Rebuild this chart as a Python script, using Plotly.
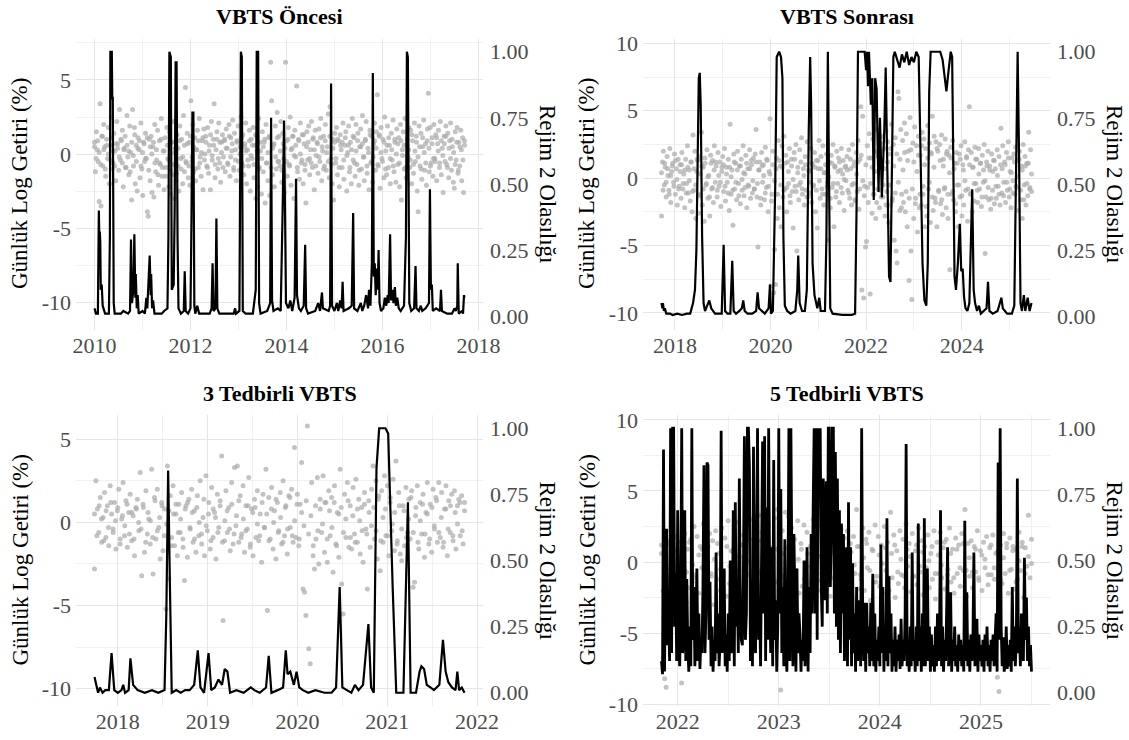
import numpy as np
import plotly.graph_objects as go

FONT = "Liberation Serif"
W, H = 1129, 740

# ---------------- DATA ----------------
# daily log returns (%), stored in tenths of a percent
p1_span = (2010.00, 2017.71)
p1_ret = [
 8,-12,15,3,-5,-32,34,-35,12,-8,20,5,-15,10,-3,18,-20,6,25,-10,
 -6,14,2,-18,22,7,-11,30,-4,9,16,-22,4,12,-9,26,-2,-14,19,1,
 -31,30,-8,18,-20,6,-25,11,3,-16,21,-10,-28,8,-5,14,-3,-39,-42,10,
 -18,12,-26,5,-29,20,-12,-4,16,-21,9,-7,24,-15,2,-24,11,-9,18,-3,
 -22,15,-27,8,-14,22,-30,4,-18,13,-8,-25,19,-3,10,-20,26,-12,45,-6,
 14,-16,8,-21,36,-5,20,-12,11,-18,3,16,-9,24,-2,-15,9,-24,17,0,
 12,-8,18,-13,6,-24,22,-4,10,34,-16,3,15,-10,21,-6,-19,8,13,-2,
 9,-12,17,4,-7,20,-15,11,2,23,-9,14,-4,-18,8,19,-11,5,25,-6,
 13,-14,7,21,-20,3,-8,16,-25,10,-3,18,-16,6,-30,12,-22,24,-9,2,
 -27,15,-12,8,-33,20,-6,-18,11,-28,62,36,-14,6,-22,19,-10,28,-5,12,
 -8,22,-19,14,-3,-26,62,9,-15,18,-7,25,-21,4,12,-30,16,-2,46,-12,
 10,-17,21,-6,13,-20,7,-11,-33,15,-4,19,-14,3,22,-9,11,-24,16,-1,
 8,-13,17,-5,24,-18,2,12,-8,20,-11,5,27,-16,32,-3,-20,10,-31,14,
 -6,18,-14,9,-22,13,3,-9,21,-17,6,15,-25,1,19,-12,8,-20,24,-4,
 11,-15,20,-7,14,-21,5,17,-10,26,-2,-18,9,22,-13,4,-24,16,-6,12,
 -19,7,21,-11,15,40,-8,13,-23,18,-3,10,-16,25,2,-14,19,-9,6,-20,
 14,-4,23,-12,8,-19,17,-7,11,-22,20,-31,3,15,-10,24,-16,6,-2,18,
 -9,16,-20,9,-13,21,-5,12,-25,-39,19,-8,14,-17,5,23,-11,7,-21,17,
 41,-12,18,-6,11,-15,20,-3,13,-18,7,16,-9,22,-14,4,-26,12,-5,19,
 -7,14,-16,9,21,-11,5,-19,-23,15,-4,18,-13,8,-8,16,-18,11,-26,6]
p1_ret_core = [
 5,-3,9,1,-7,12,3,-10,6,0,-4,11,2,-8,7,4,-2,10,-6,3,
 -9,6,2,-12,8,-1,13,-5,4,9,-8,1,7,-3,11,-11,5,0,8,-6,
 3,-14,-6,10,-9,2,-15,6,-4,-11,8,-7,1,-13,4,9,-10,-2,6,-5,
 7,-8,12,-2,5,-10,3,9,-6,1,11,-4,8,-9,2,13,-1,6,-7,10,
 -3,8,1,-9,10,4,-6,12,-2,7,-11,3,9,-5,0,11,-8,5,2,-4,
 9,-1,6,-7,13,2,-10,8,-3,5,10,-6,1,12,-9,4,7,-2,11,-5,
 2,-11,7,4,-5,10,-8,3,12,-1,6,-9,9,0,-4,13,-7,5,8,-3,
 -6,10,3,-8,7,-2,11,5,-10,9,1,-5,12,-7,4,8,-3,10,-9,6,
 8,-4,11,-1,6,-9,3,12,-6,2,9,-11,5,7,-2,10,-8,1,13,-5,
 -2,9,4,-7,12,1,-5,8,-10,6,11,-3,3,-8,10,0,7,-6,9,-1,
 6,-9,10,3,-4,13,-7,2,8,-2,5,-10,11,1,-6,9,4,-8,7,-3,
 -5,11,2,-6,9,-1,7,12,-9,4,-3,10,1,-7,8,-11,5,3,-4,9]

p2_span = (2017.72, 2025.46)
p2_ret = [
 -28,12,20,-5,8,-14,16,2,-9,22,-18,5,11,-3,18,-12,7,-20,14,-6,
 10,-15,19,-8,3,-22,14,-4,24,-11,6,-17,12,-25,32,-9,20,-30,5,13,
 -26,16,-12,34,-20,8,-32,11,-5,21,-15,2,-28,17,-8,13,-18,24,-3,9,
 -14,19,-6,12,-21,5,16,-10,22,-17,8,-3,14,-24,40,-12,6,-35,18,-8,
 11,-16,20,-4,9,-19,14,-9,24,-13,3,17,-22,7,-6,21,-15,10,-11,15,
 -8,18,36,-14,-51,6,12,-20,19,-3,10,-16,23,-7,13,-25,5,44,-80,-12,
 20,-85,-53,-79,15,-30,28,-22,9,-36,24,-14,31,-8,17,-25,12,-4,22,-18,
 14,-10,-37,19,-6,25,-54,8,-16,21,-3,30,-12,7,-20,16,-9,27,-14,5,
 -11,22,-18,10,-5,19,-25,13,-37,7,28,-15,16,-8,24,-20,4,-12,18,-3,
 -46,12,-22,17,-7,25,-36,9,-14,20,-4,15,-18,6,22,-11,13,-24,8,-2,
 16,-9,21,-15,7,-20,25,-4,12,-17,19,-10,28,-23,14,53,-83,46,-89,-6,
 -51,-47,24,-18,33,-86,15,-26,29,-12,20,-30,36,-8,18,-22,26,-14,31,-5,
 22,-28,35,-10,27,-33,18,-20,40,-15,25,-46,30,-54,-63,64,59,-24,36,-12,
 28,-18,41,-25,33,-36,20,-76,45,-54,-90,26,-30,38,-15,24,-40,31,-22,17,
 -20,34,-12,29,-36,22,-28,39,-8,26,-33,18,46,-24,31,-15,27,-36,20,-10,
 25,-19,32,-27,14,-8,29,-22,20,-30,17,-68,23,-12,28,-16,11,-25,19,-5,
 -36,18,-14,24,-28,10,-20,27,-9,15,-32,21,53,-12,19,-25,8,-17,23,-4,
 14,-18,22,-8,11,-21,17,-3,25,-56,-14,9,20,-16,6,-23,18,-9,13,-19,
 7,-15,21,-6,16,-20,37,-11,24,-3,12,-18,19,-9,27,-14,5,-22,15,-2,
 18,-12,23,-7,13,-24,20,-16,9,-30,25,-5,16,-20,11,-13,34,-8,21,-10]
p2_ret_core = [
 4,-9,11,-3,7,-12,2,9,-6,13,-1,-8,5,10,-4,6,-11,8,-2,12,
 -10,7,-5,14,-13,3,9,-8,15,-4,1,-14,11,-7,6,12,-9,2,-3,8,
 10,-6,3,-11,8,1,-9,12,-3,6,-13,9,-1,4,-7,11,-5,7,13,-2,
 -8,12,-4,6,-15,9,2,-11,14,-6,3,-17,10,-2,7,-12,13,-5,8,-9,
 11,-7,5,-13,9,-1,14,-10,4,-5,12,-8,2,10,-14,6,-3,11,-6,8,
 -9,13,-2,7,-12,4,10,-6,1,-15,11,-4,8,-10,5,12,-7,3,-1,9,
 6,-11,14,-5,9,-16,3,12,-8,17,-2,-13,10,-7,15,-4,8,-12,5,-18,
 16,-9,20,-14,7,-20,12,-5,22,-17,9,-11,18,-3,14,-22,6,19,-10,13,
 -15,21,-8,12,-19,5,17,-12,24,-6,10,-21,15,-3,19,-14,8,-18,22,-9,
 13,-16,9,-7,18,-12,4,15,-10,7,-19,11,-5,14,-13,6,-2,16,-8,10,
 -11,8,-4,14,-9,3,11,-14,6,-2,12,-7,9,-15,5,13,-6,2,-12,10,
 7,-13,10,-3,15,-8,4,-11,12,-6,1,14,-9,6,-16,9,-4,11,-7,3]

p3_span = (2017.74, 2021.86)
p3_ret = [
 -28,25,8,-6,15,-12,3,18,-9,10,-14,22,5,-4,12,-16,7,20,-10,2,
 24,-8,13,-15,6,17,-11,4,-20,9,14,-5,30,-32,11,-18,19,-7,2,-13,
 32,-31,15,-10,20,-3,-22,12,-17,8,-52,34,-34,16,-9,22,-14,5,-20,11,
 -6,18,-15,-35,10,-21,14,-4,20,-12,7,-18,16,-8,25,-13,3,-20,28,-5,
 12,-16,21,-9,6,-22,17,-3,13,40,-59,-11,19,-6,9,-17,24,-13,33,-2,
 34,-12,16,-7,22,-18,10,-4,27,-15,8,-20,14,-9,19,-11,5,-24,17,-3,
 32,-53,15,-10,21,-16,7,-22,12,-5,18,-13,25,-8,10,-19,16,-3,20,-12,
 45,-9,17,-14,11,36,-40,-42,-56,58,-76,-85,24,-20,-28,-10,27,-25,14,-6,
 28,-18,12,-24,19,-8,15,-30,22,-13,6,-21,32,-37,-55,17,-9,24,-15,10,
 -16,21,-7,26,-12,14,-19,9,-24,18,-4,-40,13,-15,20,34,-10,25,-22,16,
 -29,19,-12,28,-8,22,-20,15,-5,26,-17,37,-11,18,-19,-23,10,-14,21,-6,
 14,-10,19,-39,-36,9,22,-16,12,-7,17,-21,6,24,-13,11,-18,20,-4,15,
 -12,24,-9,18,-15,8,22,-20,13,-6,17,-11,19,-16,10,14,-8,16,-13,12]
p3_ret_core = [
 5,-8,10,2,-11,7,-3,12,-6,1,9,-13,4,-2,11,-7,6,-10,8,0,
 -4,9,-12,6,1,-9,13,-5,3,10,-8,-1,7,-14,5,11,-6,2,-10,8,
 12,-3,6,-10,9,0,-7,14,-2,5,-11,8,3,-6,10,-12,1,7,-4,11,
 -7,4,13,-9,2,-5,10,-13,6,9,-1,-8,12,-3,5,-11,8,0,14,-6,
 3,-12,9,-4,15,-8,1,11,-10,6,-2,13,-7,4,-14,10,-5,8,-1,12,
 -10,7,-3,12,-14,5,9,-6,2,13,-9,4,-12,8,1,-5,11,-7,6,-2,
 9,-5,14,-11,3,8,-8,12,-1,6,-13,10,-4,7,-9,2,15,-6,4,-12,
 1,11,-7,5,-10,9,-2,13,-6,3,-12,8,-4,10,-8,6,-1,12,-5,7]

p4_span = (2021.84, 2025.50)
p4_ret = [
 12,-20,-82,-88,15,-10,22,-16,8,-25,18,-6,14,-85,-12,20,-28,9,-18,16,
 -14,25,-9,18,-22,11,-4,27,-17,13,-26,20,-8,15,-30,22,-12,6,-20,24,
 -10,17,-24,29,-15,8,-19,23,-6,28,-21,12,-27,19,-13,26,-9,16,-18,30,
 -22,14,-16,33,-8,21,-25,18,-12,27,-19,10,-26,31,-14,37,-20,-90,22,-10,
 35,-18,32,-12,24,-28,16,-6,29,-22,13,-17,26,-10,21,-25,11,-14,30,-8,
 19,-13,25,-20,9,-16,27,-7,15,-24,20,-11,28,-18,12,-5,23,-21,17,-9,
 22,-15,13,-26,18,-8,37,-19,11,-12,24,-20,16,-4,21,-27,9,-14,26,-10,
 18,-17,12,-22,25,-6,14,-20,35,-11,19,-25,8,-15,22,-9,16,-18,27,-3,
 13,-21,20,-10,8,-16,24,-7,15,-23,11,-4,19,-18,6,-12,22,-26,14,-8,
 21,-11,10,-19,16,-5,24,-14,9,-22,17,-8,12,-17,20,-6,37,-24,13,-10,
 15,-18,11,-7,22,-13,8,-20,14,-4,18,-16,10,-9,19,-12,6,-81,-91,12,
 -15,20,-8,13,-22,17,-5,11,-19,9,-12,21,-6,14,-25,10,-3,33,-11,16]
p4_ret_core = [
 6,-9,12,-4,8,-13,3,10,-7,14,-2,-11,5,9,-6,11,-10,2,13,-5,
 -8,11,-3,7,-14,4,12,-9,1,-12,10,-6,15,-2,8,-11,3,9,-15,6,
 10,-5,13,-10,2,9,-12,6,-3,14,-8,4,-13,11,-1,7,-9,12,-4,5,
 -12,7,-2,11,-9,3,13,-6,8,-14,5,-1,10,-11,6,12,-7,2,-10,9,
 4,-10,12,-3,7,-13,1,11,-8,5,-2,14,-9,6,-11,9,-4,13,-6,3,
 -7,9,-11,5,2,-9,12,-4,7,-12,3,10,-6,8,-14,1,11,-8,4,-1]

# regime-2 probability (line), (year, probability)
p1_prob_t = [
 2010.00,2010.03,2010.07,2010.09,2010.10,2010.11,2010.12,2010.13,2010.15,2010.17,2010.20,2010.22,
 2010.30,2010.32,2010.33,2010.36,2010.37,2010.38,2010.40,2010.42,2010.55,2010.60,2010.70,2010.74,
 2010.76,2010.78,2010.81,2010.83,2010.85,2010.86,2010.88,2010.90,2010.92,2011.00,2011.05,2011.08,
 2011.10,2011.13,2011.15,2011.17,2011.18,2011.20,2011.22,2011.25,2011.40,2011.45,2011.52,2011.54,
 2011.56,2011.59,2011.61,2011.65,2011.67,2011.69,2011.71,2011.73,2011.75,2011.80,2011.86,2011.88,
 2011.90,2011.95,2012.00,2012.02,2012.04,2012.06,2012.08,2012.10,2012.14,2012.18,2012.40,2012.44,
 2012.46,2012.48,2012.52,2012.54,2012.56,2012.60,2012.90,2012.93,2012.95,2013.02,2013.04,2013.05,
 2013.07,2013.09,2013.15,2013.30,2013.36,2013.38,2013.41,2013.43,2013.46,2013.60,2013.66,2013.68,
 2013.70,2013.73,2013.82,2013.88,2013.92,2013.95,2013.97,2013.99,2014.04,2014.08,2014.12,2014.17,
 2014.20,2014.22,2014.26,2014.30,2014.36,2014.39,2014.41,2014.45,2014.60,2014.66,2014.70,2014.72,
 2014.74,2014.76,2014.88,2014.91,2014.93,2014.95,2015.00,2015.05,2015.08,2015.12,2015.15,2015.17,
 2015.19,2015.30,2015.36,2015.39,2015.41,2015.48,2015.55,2015.58,2015.62,2015.66,2015.70,2015.72,
 2015.75,2015.78,2015.80,2015.82,2015.84,2015.86,2015.88,2015.90,2015.92,2015.94,2015.97,2016.02,
 2016.05,2016.08,2016.11,2016.13,2016.16,2016.18,2016.21,2016.23,2016.26,2016.28,2016.31,2016.34,
 2016.38,2016.45,2016.49,2016.51,2016.53,2016.56,2016.60,2016.66,2016.69,2016.71,2016.76,2016.80,
 2016.83,2016.90,2016.97,2016.99,2017.01,2017.03,2017.05,2017.12,2017.20,2017.22,2017.24,2017.35,
 2017.45,2017.50,2017.53,2017.56,2017.57,2017.59,2017.66,2017.68,2017.70,2017.71]
p1_prob_v = [
 .03,.01,.01,.40,.30,.32,.28,.10,.12,.04,.02,.01,
 .01,.30,1.0,1.0,.82,.83,.05,.01,.01,.02,.01,.02,
 .29,.05,.10,.31,.07,.16,.03,.08,.01,.02,.01,.07,
 .03,.15,.23,.08,.16,.03,.06,.01,.01,.02,.03,.30,
 1.0,.98,.10,.12,.40,.96,.96,.30,.03,.01,.02,.17,
 .02,.01,.03,.35,.77,.77,.04,.01,.04,.01,.01,.03,
 .20,.02,.03,.37,.03,.01,.01,.03,.01,.02,.50,1.0,
 .98,.02,.01,.01,.10,1.0,1.0,.05,.01,.02,.05,.75,
 .06,.02,.03,.02,.40,.74,.40,.05,.03,.06,.02,.07,
 .52,.08,.03,.02,.04,.27,.03,.01,.02,.05,.02,.05,
 .09,.03,.02,.04,.88,.04,.02,.05,.02,.06,.03,.13,
 .02,.03,.04,.39,.03,.02,.05,.02,.04,.08,.03,.10,
 .04,.20,.92,.15,.20,.08,.18,.10,.25,.05,.02,.03,
 .07,.04,.08,.05,.31,.06,.10,.05,.11,.04,.07,.03,
 .02,.04,.30,1.0,.98,.05,.02,.03,.19,.03,.02,.04,
 .02,.03,.05,.48,.10,.12,.02,.03,.02,.10,.02,.01,
 .01,.03,.02,.04,.20,.01,.02,.01,.08,.07]

p2_prob_t = [
 2017.72,2017.74,2017.75,2017.77,2017.79,2017.82,2017.90,2017.95,2018.05,2018.15,2018.25,2018.32,
 2018.38,2018.42,2018.45,2018.48,2018.50,2018.52,2018.54,2018.57,2018.60,2018.63,2018.68,2018.72,
 2018.76,2018.80,2018.84,2018.98,2019.02,2019.05,2019.10,2019.16,2019.20,2019.23,2019.28,2019.35,
 2019.40,2019.43,2019.46,2019.52,2019.62,2019.70,2019.73,2019.76,2019.82,2019.88,2019.96,2019.99,
 2020.01,2020.05,2020.10,2020.13,2020.18,2020.22,2020.25,2020.27,2020.30,2020.35,2020.42,2020.52,
 2020.56,2020.58,2020.61,2020.66,2020.72,2020.76,2020.80,2020.83,2020.85,2020.88,2020.92,2020.95,
 2020.98,2021.02,2021.05,2021.14,2021.17,2021.20,2021.22,2021.25,2021.30,2021.50,2021.70,2021.77,
 2021.80,2021.83,2021.97,2022.00,2022.02,2022.04,2022.06,2022.08,2022.10,2022.13,2022.16,2022.19,
 2022.22,2022.26,2022.29,2022.33,2022.38,2022.41,2022.45,2022.48,2022.51,2022.54,2022.57,2022.60,
 2022.65,2022.70,2022.75,2022.80,2022.85,2022.90,2022.95,2023.00,2023.05,2023.10,2023.14,2023.18,
 2023.22,2023.26,2023.29,2023.32,2023.35,2023.55,2023.60,2023.65,2023.68,2023.72,2023.77,2023.80,
 2023.83,2023.85,2023.88,2023.92,2023.96,2023.99,2024.02,2024.05,2024.08,2024.12,2024.16,2024.20,
 2024.22,2024.25,2024.28,2024.32,2024.36,2024.40,2024.46,2024.52,2024.55,2024.58,2024.65,2024.75,
 2024.83,2024.86,2024.95,2025.05,2025.10,2025.14,2025.17,2025.20,2025.23,2025.26,2025.30,2025.33,
 2025.38,2025.42,2025.46]
p2_prob_v = [
 .05,.03,.05,.02,.03,.01,.01,.005,.01,.005,.01,.01,
 .05,.10,.25,.70,.90,.92,.80,.30,.05,.02,.04,.06,
 .03,.02,.01,.01,.27,.02,.01,.01,.21,.02,.01,.02,
 .03,.06,.02,.01,.01,.02,.09,.03,.02,.01,.03,.12,
 .01,.02,.50,.98,1.0,.98,.90,.30,.04,.02,.01,.02,
 .10,.23,.05,.02,.02,.10,.70,.98,.80,.20,.08,.06,
 .03,.07,.02,.02,.30,1.0,.50,.03,.01,.005,.005,.01,
 .40,1.0,1.0,.93,1.0,.87,1.0,.85,.80,.90,.44,.90,
 .86,.47,.75,.45,.70,.94,.40,.15,.13,.60,.98,1.0,
 .97,.94,.99,.96,1.0,.95,.98,.96,1.0,.98,.60,.20,
 .06,.04,.20,.85,1.0,1.0,.97,.88,.85,.92,1.0,.98,
 .50,.15,.10,.20,.35,.17,.18,.07,.03,.02,.05,.30,
 .48,.10,.05,.02,.04,.01,.02,.03,.13,.02,.01,.02,
 .07,.03,.01,.01,.04,.60,1.0,.60,.05,.02,.08,.02,
 .07,.02,.05]

p3_prob_t = [
 2017.74,2017.76,2017.78,2017.80,2017.83,2017.86,2017.90,2017.93,2017.96,2018.00,2018.04,2018.06,
 2018.08,2018.12,2018.14,2018.17,2018.22,2018.30,2018.38,2018.45,2018.52,2018.54,2018.56,2018.58,
 2018.60,2018.65,2018.70,2018.75,2018.80,2018.85,2018.89,2018.92,2018.96,2019.01,2019.04,2019.08,
 2019.12,2019.16,2019.19,2019.22,2019.25,2019.32,2019.40,2019.48,2019.52,2019.58,2019.65,2019.68,
 2019.71,2019.78,2019.84,2019.87,2019.89,2019.92,2019.96,2019.99,2020.02,2020.06,2020.12,2020.20,
 2020.30,2020.38,2020.43,2020.47,2020.50,2020.55,2020.60,2020.64,2020.68,2020.73,2020.76,2020.79,
 2020.82,2020.85,2020.88,2020.91,2020.98,2021.01,2021.06,2021.10,2021.18,2021.23,2021.26,2021.32,
 2021.36,2021.38,2021.41,2021.44,2021.48,2021.52,2021.58,2021.62,2021.65,2021.68,2021.72,2021.76,
 2021.78,2021.80,2021.83,2021.86]
p3_prob_v = [
 .06,.03,.00,.02,.00,.01,.01,.15,.01,.00,.01,.03,
 .00,.01,.13,.03,.01,.00,.01,.00,.01,.30,.84,.40,
 .00,.01,.00,.01,.01,.03,.16,.02,.00,.15,.01,.02,
 .05,.03,.09,.08,.00,.01,.00,.02,.01,.00,.02,.14,
 .00,.01,.02,.16,.07,.08,.03,.08,.02,.01,.00,.01,
 .00,.00,.02,.40,.02,.01,.00,.03,.01,.03,.15,.26,
 .02,.00,.85,1.0,1.0,.98,.40,.00,.00,.72,.00,.00,
 .08,.10,.09,.03,.02,.01,.03,.20,.08,.04,.02,.01,
 .08,.01,.02,.00]

# panel 4: probability sampled every 0.01 year from 2021.84 to 2025.50
p4_prob_v = [
 .12,.07,.92,.08,.47,.62,.18,.30,.12,1.0,
 .15,1.0,1.0,.25,.45,.12,.69,.20,.10,.35,
 1.0,.15,.30,.69,.12,.43,.18,.08,.25,.10,
 1.0,.20,.40,.10,.22,.47,.12,.30,.09,.20,
 .15,.40,.86,.15,.30,.87,.86,.20,.42,.10,
 .25,.08,.20,.12,.53,.15,.30,.10,.20,.99,
 .15,.30,.47,.10,.22,.08,.30,.12,.50,.15,
 .20,.69,.10,.72,.25,.40,.15,.81,.30,.20,
 .18,.45,.97,.20,.30,1.0,1.0,.85,.12,.40,
 .10,.93,.25,.15,.60,1.0,.20,.35,.10,.50,
 .95,.30,.97,.12,.70,.20,1.0,.40,.15,.55,
 .10,.88,.20,.35,.08,.25,1.0,.30,.77,.15,
 .40,.10,.58,.20,.08,.30,1.0,.12,1.0,.45,
 .10,.60,.20,.08,.47,.15,.30,.22,.08,.20,
 .12,.50,.10,.25,.55,.08,.40,.15,.60,.30,
 .70,1.0,.30,1.0,.20,1.0,.90,1.0,.40,.25,
 .81,.50,.35,.80,.30,1.0,1.0,.40,.60,1.0,
 1.0,.30,.91,.25,.81,.20,.69,.15,.64,.30,
 .60,.12,.33,.55,.10,.72,.20,.55,.10,.49,
 .15,.30,.08,.40,.12,.20,.35,.10,1.0,.30,
 .12,.34,.08,.34,.15,.25,.10,.34,.12,.45,
 .10,.30,.08,.20,.12,.25,.10,.56,.15,.40,
 .08,.25,.12,.66,.10,.44,.15,.30,.08,.20,
 .10,.25,.08,.20,.12,.22,.09,.28,.10,.20,
 .12,.30,.94,.10,.20,.08,.25,.10,.53,.12,
 .20,.08,.25,.10,.64,.12,.25,.08,.30,.10,
 .66,.10,.20,.47,.12,.25,.08,.22,.10,.18,
 .08,.25,.10,.30,.12,.20,.69,.10,.25,.08,
 .20,.12,.30,.55,.10,.22,.38,.08,.20,.12,
 .25,.10,.18,.08,.22,.12,.20,.10,.18,.08,
 .65,.12,.38,.10,.20,.08,.22,.12,.18,.53,
 .10,.20,.28,.08,.22,.12,.18,.10,.20,.08,
 .22,.12,.25,.10,.18,.08,.20,.12,.22,.10,
 .18,.30,.08,.87,.20,1.0,.25,.10,.21,.08,
 .11,.25,.09,.18,.10,.20,.08,.40,.12,.25,
 .10,.20,.81,.15,.25,.10,.30,.18,.12,.51,
 .20,.36,.12,.25,.10,.18,.08]
p4_span_line = (2021.84, 2025.50)

titles = ["VBTS Öncesi", "VBTS Sonrası", "3 Tedbirli VBTS", "5 Tedbirli VBTS"]
y_left_ticks = [[-10, -5, 0, 5], [-10, -5, 0, 5, 10], [-10, -5, 0, 5], [-10, -5, 0, 5, 10]]
x_major = [[2010, 2012, 2014, 2016, 2018], [2018, 2020, 2022, 2024],
           [2018, 2019, 2020, 2021, 2022], [2022, 2023, 2024, 2025]]
x_minor = [[2011, 2013, 2015, 2017], [2017, 2019, 2021, 2023, 2025],
           [2017.5, 2018.5, 2019.5, 2020.5, 2021.5], [2021.5, 2022.5, 2023.5, 2024.5, 2025.5]]
prob_ticks = [0, 0.25, 0.5, 0.75, 1.0]
prob_labels = ["0.00", "0.25", "0.50", "0.75", "1.00"]

# ---------------- STYLE / LAYOUT ----------------
x_ranges = [[2009.614, 2018.096], [2017.333, 2025.847], [2017.534, 2022.066], [2021.657, 2025.683]]
y_ranges = [[-11.84, 7.80], [-11.23, 10.36], [-11.04, 6.46], [-10.12, 10.34]]
sec_range = [-0.05, 1.05]
line_widths = [2.2, 2.2, 2.2, 2.8]

colL = [76 / W, 483 / W]
colR = [643 / W, 1050 / W]
rowT = [1 - 329.5 / H, 1 - 38.5 / H]
rowB = [1 - 706 / H, 1 - 415 / H]
domains = [(colL, rowT), (colR, rowT), (colL, rowB), (colR, rowB)]

GRID = "#e6e6e6"
GRID_MINOR = "#f1f1f1"
TICK_FONT = dict(family=FONT, size=22, color="#4d4d4d")
AX_TITLE_FONT = dict(family=FONT, size=23, color="black")
POINT_STYLE = dict(size=5, color="#a9a9a9", opacity=0.7)

fig = go.Figure()

ret_sets = [(p1_span, p1_ret, p1_ret_core), (p2_span, p2_ret, p2_ret_core),
            (p3_span, p3_ret, p3_ret_core), (p4_span, p4_ret, p4_ret_core)]
line_sets = [(p1_prob_t, p1_prob_v), (p2_prob_t, p2_prob_v), (p3_prob_t, p3_prob_v),
             (list(np.linspace(p4_span_line[0], p4_span_line[1], len(p4_prob_v))), p4_prob_v)]

layout = dict(width=W, height=H, autosize=False, margin=dict(l=0, r=0, t=0, b=0),
              paper_bgcolor="white", plot_bgcolor="white", showlegend=False,
              font=dict(family=FONT))
annotations = []

for k in range(4):
    n = k + 1
    xs = "x" if n == 1 else f"x{n}"
    yp = 2 * n - 1
    ys_p = "y" if yp == 1 else f"y{yp}"
    ys_s = f"y{2 * n}"
    span, vals, core = ret_sets[k]
    xr = np.linspace(span[0], span[1], len(vals))
    xc = np.linspace(span[0], span[1], len(core))
    fig.add_trace(go.Scatter(x=xr, y=np.array(vals) / 10.0, mode="markers", xaxis=xs, yaxis=ys_p,
                             marker=POINT_STYLE, hoverinfo="skip"))
    fig.add_trace(go.Scatter(x=xc, y=np.array(core) / 10.0, mode="markers", xaxis=xs, yaxis=ys_p,
                             marker=POINT_STYLE, hoverinfo="skip"))
    lt, lv = line_sets[k]
    fig.add_trace(go.Scatter(x=lt, y=lv, mode="lines", xaxis=xs, yaxis=ys_s,
                             line=dict(color="black", width=line_widths[k]), hoverinfo="skip"))

    dx, dy = domains[k]
    layout["xaxis" if n == 1 else f"xaxis{n}"] = dict(
        domain=dx, anchor=ys_p, range=x_ranges[k], tickvals=x_major[k],
        ticktext=[str(v) for v in x_major[k]], showgrid=True, gridcolor=GRID, gridwidth=1,
        minor=dict(tickvals=x_minor[k], showgrid=True, gridcolor=GRID_MINOR, gridwidth=1),
        zeroline=False, showline=False, ticks="", tickfont=TICK_FONT, automargin=False,
        ticklabelstandoff=0)
    ymaj = y_left_ticks[k]
    layout["yaxis" if yp == 1 else f"yaxis{yp}"] = dict(
        domain=dy, anchor=xs, range=y_ranges[k], tickvals=ymaj,
        ticktext=[str(v) for v in ymaj], showgrid=True, gridcolor=GRID, gridwidth=1,
        minor=dict(tickvals=[v + 2.5 for v in [-12.5] + ymaj], showgrid=True,
                   gridcolor=GRID_MINOR, gridwidth=1),
        zeroline=False, showline=False, ticks="", tickfont=TICK_FONT, automargin=False,
        ticklabelstandoff=4)
    layout[f"yaxis{2 * n}"] = dict(
        overlaying=ys_p, side="right", anchor=xs, range=sec_range, tickvals=prob_ticks,
        ticktext=prob_labels, showgrid=False, zeroline=False, showline=False, ticks="",
        tickfont=TICK_FONT, automargin=False, ticklabelstandoff=6)

    cx = (dx[0] + dx[1]) / 2
    cy = (dy[0] + dy[1]) / 2
    top_px = (1 - dy[1]) * H
    annotations.append(dict(text=f"<b>{titles[k]}</b>", x=cx, y=1 - (top_px - 22) / H,
                            xref="paper", yref="paper", showarrow=False, xanchor="center",
                            yanchor="middle", font=dict(family=FONT, size=22, color="black")))
    left_px = dx[0] * W
    right_px = dx[1] * W
    annotations.append(dict(text="Günlük Log Getiri (%)", x=(left_px - 56) / W, y=cy,
                            xref="paper", yref="paper", showarrow=False, textangle=-90,
                            xanchor="center", yanchor="middle", font=AX_TITLE_FONT))
    annotations.append(dict(text="Rejim 2 Olasılığı", x=(right_px + 64) / W, y=cy,
                            xref="paper", yref="paper", showarrow=False, textangle=90,
                            xanchor="center", yanchor="middle", font=AX_TITLE_FONT))

layout["annotations"] = annotations
fig.update_layout(**layout)

fig.write_html("out.html", config={"displayModeBar": False},
               post_script="document.body.style.margin='0px';")
